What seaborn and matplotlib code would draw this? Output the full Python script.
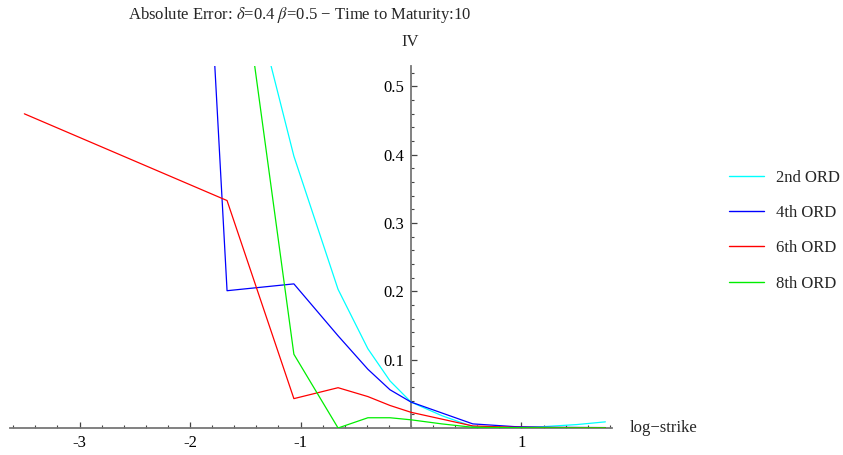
import numpy as np
import pandas as pd
import matplotlib
matplotlib.use("Agg")
import matplotlib.pyplot as plt
from matplotlib.ticker import FixedLocator, FormatStrFormatter
from matplotlib.lines import Line2D
import seaborn as sns

# ---- data ----
log_strike = [-3.5, -1.665, -1.06, -0.66, -0.39, -0.19, 0.0, 0.28, 0.56, 0.94, 1.2, 1.5, 1.76]
err_2nd = [3.0, 0.785, 0.398, 0.203, 0.116, 0.069, 0.038, 0.018, 0.002, 0.001, 0.002, 0.005, 0.009]
err_4th = [5.65, 0.201, 0.211, 0.135, 0.086, 0.056, 0.038, 0.022, 0.006, 0.002, 0.001, 0.0008, 0.0006]
err_6th = [0.46, 0.333, 0.043, 0.059, 0.046, 0.033, 0.023, 0.013, 0.003, 0.001, 0.0008, 0.0006, 0.0005]
err_8th = [4.0, 0.828, 0.108, 0.0, 0.015, 0.015, 0.012, 0.006, 0.001, 0.0005, 0.0003, 0.0002, 0.0002]
series_names = ["2nd ORD", "4th ORD", "6th ORD", "8th ORD"]
series_colors = ["#00ffff", "#0000ff", "#ff0000", "#00ee00"]
x_major = [-3, -2, -1, 1]
y_major = [0.1, 0.2, 0.3, 0.4, 0.5]

rows = []
for name, vals in zip(series_names, [err_2nd, err_4th, err_6th, err_8th]):
    for x, v in zip(log_strike, vals):
        rows.append({"log-strike": x, "IV": v, "order": name})
df = pd.DataFrame(rows)

sns.set_style("white")
plt.rcParams["font.family"] = ["Liberation Serif", "DejaVu Serif"]
plt.rcParams["mathtext.fontset"] = "stix"

FS = 12

fig = plt.figure(figsize=(8.43, 4.55), dpi=100)
ax = fig.add_axes([10 / 843, 27 / 455, 602 / 843, 362 / 455])

palette = dict(zip(series_names, series_colors))
sns.lineplot(data=df, x="log-strike", y="IV", hue="order", palette=palette,
             estimator=None, sort=False, linewidth=0.9, legend=False, ax=ax)

ax.set_xlim(-3.63, 1.82)
ax.set_ylim(0, 0.53)
ax.set_xlabel("")
ax.set_ylabel("")

for s in ["top", "right"]:
    ax.spines[s].set_visible(False)
ax.spines["left"].set_position(("data", 0))
ax.spines["bottom"].set_position(("data", 0))
for s in ["left", "bottom"]:
    ax.spines[s].set_color("#777777")
    ax.spines[s].set_linewidth(1.3)
    ax.spines[s].set_zorder(1)

ax.xaxis.set_major_locator(FixedLocator(x_major))
ax.xaxis.set_minor_locator(FixedLocator(np.round(np.arange(-3.6, 1.81, 0.2), 2)))
ax.yaxis.set_major_locator(FixedLocator(y_major))
ax.yaxis.set_minor_locator(FixedLocator(np.round(np.arange(0.02, 0.53, 0.02), 2)))
ax.yaxis.set_major_formatter(FormatStrFormatter("%.1f"))
ax.xaxis.set_major_formatter(FormatStrFormatter("%d"))

ax.tick_params(axis="both", which="major", direction="in", length=4.3, width=0.9,
               color="#444444", labelsize=FS, labelcolor="black", pad=5)
ax.tick_params(axis="both", which="minor", direction="in", length=2.4, width=0.8,
               color="#444444")
ax.tick_params(axis="x", which="both", bottom=True, top=False)
ax.tick_params(axis="y", which="both", left=True, right=False)

fig.text(300 / 843, 1 - 15 / 455,
         "Absolute Error: $\\delta$=0.4 $\\beta$=0.5 \u2212 Time to Maturity:10",
         ha="center", va="center", fontsize=FS)
fig.text(410 / 843, 1 - 42 / 455, "IV", ha="center", va="center", fontsize=FS)
fig.text(630 / 843, 1 - 428 / 455, "log\u2212strike", ha="left", va="center", fontsize=FS)

handles = [Line2D([0], [0], color=c, lw=1.0) for c in series_colors]
fig.legend(handles, series_names, loc="upper left",
           bbox_to_anchor=(714 / 843, 1 - 155 / 455), frameon=False,
           fontsize=FS, handlelength=2.1, labelspacing=1.15, handletextpad=0.7)

fig.savefig("out.png", dpi=100)
